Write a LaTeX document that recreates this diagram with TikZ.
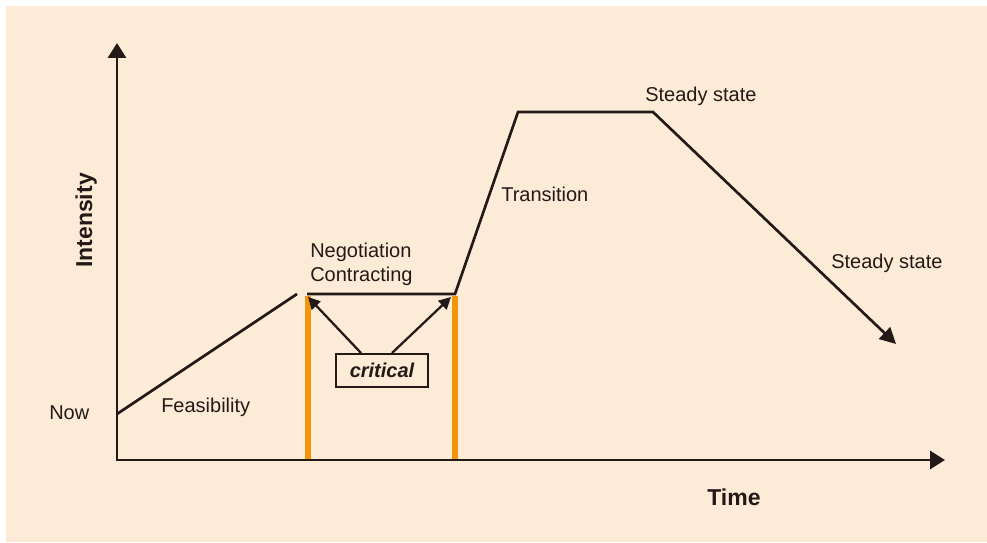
\documentclass[tikz,border=0pt]{standalone}
\usepackage{fontspec}
\setmainfont{Liberation Sans}
\usetikzlibrary{arrows.meta}
\definecolor{paper}{RGB}{252,235,215}
\definecolor{ink}{RGB}{35,26,23}
\definecolor{barorange}{RGB}{240,150,12}
\begin{document}
\begin{tikzpicture}[x=0.75pt,y=-0.75pt,
  axis/.style={draw=ink, line width=2.2pt, line join=miter,
    {Triangle[length=11.25pt,width=13.5pt]}-{Triangle[length=11.25pt,width=13.5pt]}},
  curve/.style={draw=ink, line width=2pt, line join=miter},
  endarrow/.style={-{Triangle[length=12pt,width=12pt]}},
  pointer/.style={draw=ink, line width=1.7pt, -{Triangle[length=9pt,width=9pt]}},
  phasebar/.style={draw=barorange, line width=4.5pt},
  lbl/.style={text=ink, inner sep=0pt, font=\fontsize{15}{18}\selectfont},
  axlbl/.style={text=ink, inner sep=0pt, font=\bfseries\fontsize{17.25}{20}\selectfont},
  critbox/.style={draw=ink, line width=1.5pt, fill=paper, text=ink,
    minimum width=69pt, minimum height=24.75pt, inner sep=0pt,
    font=\bfseries\itshape\fontsize{15}{18}\selectfont}
]
\useasboundingbox (0,0) rectangle (987,542);
\fill[paper] (6,6) rectangle (987,542);

% key points of the intensity profile
\coordinate (origin) at (117,460);
\coordinate (ytip) at (117,43);
\coordinate (xtip) at (945,460);
\coordinate (now) at (117,414);
\coordinate (feasEnd) at (297,294);
\coordinate (negStart) at (307,294);
\coordinate (negEnd) at (455,294);
\coordinate (peakL) at (518,112);
\coordinate (peakR) at (653,112);
\coordinate (fallTip) at (896,344);

% orange phase boundaries
\coordinate (barLtop) at (307.5,296);
\coordinate (barLbot) at (307.5,460);
\coordinate (barRtop) at (455,296);
\coordinate (barRbot) at (455,460);
\draw[phasebar] (barLtop) -- (barLbot);
\draw[phasebar] (barRtop) -- (barRbot);

% axes
\draw[axis] (ytip) -- (origin) -- (xtip);

% profile
\draw[curve] (now) -- (feasEnd);
\draw[curve, endarrow] (negStart) -- (negEnd) -- (peakL) -- (peakR) -- (fallTip);

% critical marker
\node[critbox] (crit) at (382,370.5) {critical};
\coordinate (tipL) at (308,297);
\coordinate (tipR) at (451,297);
\draw[pointer] ([xshift=-15.75pt]crit.north) -- (tipL);
\draw[pointer] ([xshift=7.5pt]crit.north) -- (tipR);

% labels
\node[lbl, anchor=base west] (nowlbl) at (49,419) {Now};
\node[lbl, anchor=base west] (feaslbl) at (161,412) {Feasibility};
\node[lbl, anchor=base west] (neglbl) at (310,257) {Negotiation};
\node[lbl, anchor=base west] (conlbl) at (310,281) {Contracting};
\node[lbl, anchor=base west] (translbl) at (501,201) {Transition};
\node[lbl, anchor=base west] (steady1) at (645,101) {Steady state};
\node[lbl, anchor=base west] (steady2) at (831,268) {Steady state};
\node[axlbl, anchor=base west, rotate=90] (ylbl) at (92,268) {Intensity};
\node[axlbl, anchor=base west] (xlbl) at (707,505) {Time};
\end{tikzpicture}
\end{document}
